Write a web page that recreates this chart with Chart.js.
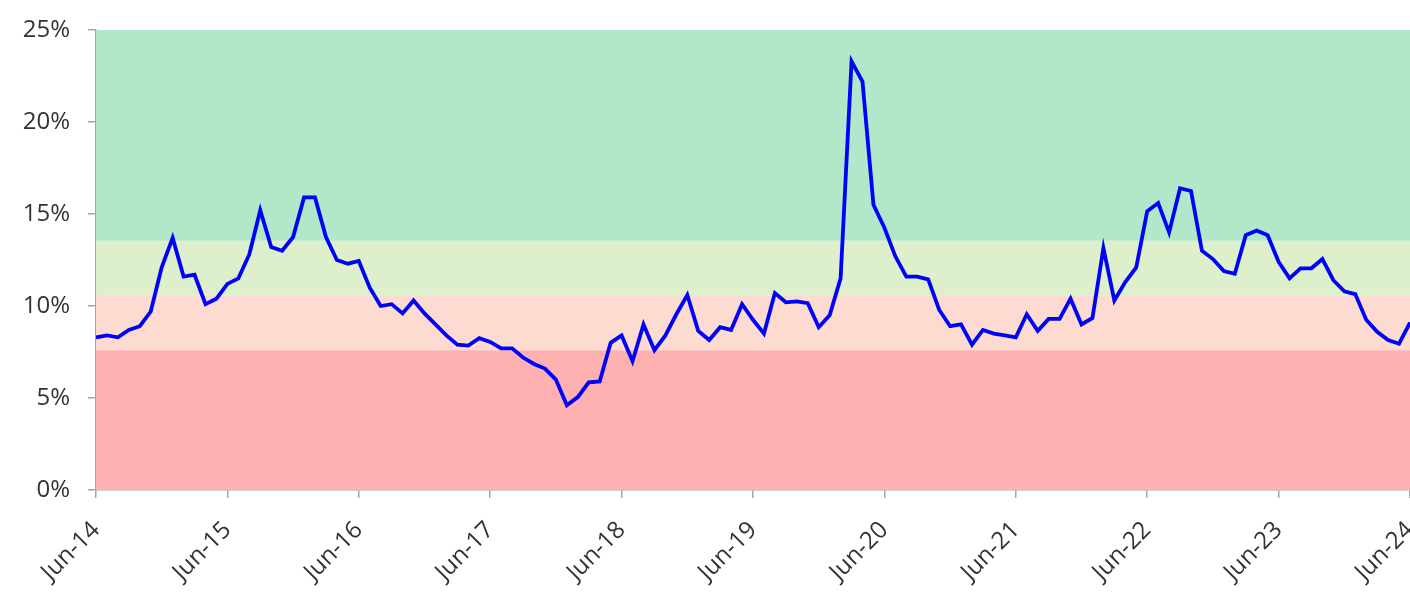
<!DOCTYPE html>
<html>
<head>
<meta charset="utf-8">
<script src="https://cdn.jsdelivr.net/npm/chart.js@4.4.1/dist/chart.umd.min.js"></script>
<style>
  html, body { margin: 0; padding: 0; background: #fff; overflow: hidden; }
  #wrap { width: 1410px; height: 594px; }
</style>
</head>
<body>
<div id="wrap"><canvas id="chart"></canvas></div>
<script>
// Tick labels on the x axis (one every June)
const yearLabels = ["Jun-14", "Jun-15", "Jun-16", "Jun-17", "Jun-18", "Jun-19",
  "Jun-20", "Jun-21", "Jun-22", "Jun-23", "Jun-24"];
const monthNames = ["Jun", "Jul", "Aug", "Sep", "Oct", "Nov", "Dec", "Jan", "Feb", "Mar", "Apr", "May"];

// Monthly values, Jun-14 .. Jun-24 (%)
const values = [
  8.3, 8.4, 8.3, 8.7, 8.9, 9.7, 12.1, 13.7, 11.6, 11.7, 10.1, 10.4,
  11.2, 11.5, 12.8, 15.2, 13.2, 13.0, 13.75, 15.9, 15.9, 13.75, 12.5, 12.3,
  12.45, 11.0, 10.0, 10.1, 9.6, 10.3, 9.6, 9.0, 8.4, 7.9, 7.85, 8.25,
  8.05, 7.7, 7.7, 7.2, 6.85, 6.6, 6.0, 4.6, 5.05, 5.85, 5.9, 8.0,
  8.4, 7.0, 9.0, 7.6, 8.4, 9.55, 10.6, 8.65, 8.15, 8.85, 8.7, 10.1,
  9.25, 8.5, 10.7, 10.2, 10.25, 10.15, 8.85, 9.5, 11.5, 23.3, 22.2, 15.5,
  14.25, 12.7, 11.6, 11.6, 11.45, 9.8, 8.9, 9.0, 7.9, 8.7, 8.5, 8.4,
  8.3, 9.55, 8.65, 9.3, 9.3, 10.4, 9.0, 9.35, 13.15, 10.3, 11.3, 12.1,
  15.15, 15.6, 14.0, 16.4, 16.25, 13.0, 12.55, 11.9, 11.75, 13.85, 14.1, 13.85,
  12.4, 11.5, 12.05, 12.05, 12.55, 11.4, 10.8, 10.65, 9.25, 8.6, 8.15, 7.95,
  9.1
];

// Background bands (value ranges, %) and their colours
const bandEdges = [0, 7.6, 10.55, 13.55, 25];
const bandColors = ["#ffb1b1", "#fedbd1", "#deefcb", "#b2e7c9"];

// Build month labels
const labels = [];
for (let i = 0; i < values.length; i++) {
  const yr = yearLabels[Math.floor(i / 12)].slice(4);
  const m = monthNames[i % 12];
  const y = (i % 12) >= 7 ? String(Number(yr) + 1).padStart(2, "0") : yr;
  labels.push(m + "-" + y);
}

const bandsPlugin = {
  id: "bands",
  beforeDatasetsDraw(chart) {
    const { ctx, chartArea, scales } = chart;
    ctx.save();
    for (let i = 0; i < bandColors.length; i++) {
      const top = scales.y.getPixelForValue(bandEdges[i + 1]);
      const bottom = scales.y.getPixelForValue(bandEdges[i]);
      ctx.fillStyle = bandColors[i];
      ctx.fillRect(chartArea.left, top, chartArea.right - chartArea.left, bottom - top);
    }
    ctx.restore();
  }
};

const font = { family: "'Open Sans', sans-serif", size: 24 };

new Chart(document.getElementById("chart"), {
  type: "line",
  data: {
    labels: labels,
    datasets: [{
      data: values,
      borderColor: "#0000ff",
      borderWidth: 3.8,
      pointRadius: 0,
      tension: 0,
      fill: false
    }]
  },
  options: {
    responsive: true,
    maintainAspectRatio: false,
    animation: false,
    events: [],
    layout: { padding: { top: 30, left: 0, right: 0, bottom: 0 } },
    plugins: { legend: { display: false }, tooltip: { enabled: false } },
    scales: {
      x: {
        offset: false,
        border: { color: "#a6a6a6", width: 1.5 },
        grid: { drawOnChartArea: false, drawTicks: true, tickLength: 8, color: "#a6a6a6", lineWidth: 1.5 },
        ticks: {
          autoSkip: false,
          maxRotation: 45,
          minRotation: 45,
          padding: 18,
          color: "#333",
          font: font,
          callback: function (val, idx) {
            return idx % 12 === 0 ? yearLabels[idx / 12] : null;
          }
        },
        afterFit: function (scale) {
          // fixed axis height; let the last label run off the edge like the original
          scale.height = 104;
          scale.paddingLeft = 0;
          scale.paddingRight = 0;
        }
      },
      y: {
        min: 0,
        max: 25,
        border: { color: "#a6a6a6", width: 1.5 },
        grid: { drawOnChartArea: false, drawTicks: true, tickLength: 8, color: "#a6a6a6", lineWidth: 1.5 },
        ticks: {
          stepSize: 5,
          padding: 18,
          color: "#333",
          font: font,
          callback: v => v + "%"
        },
        afterFit: function (scale) {
          scale.width = 96;
          scale.paddingTop = 0;
          scale.paddingBottom = 0;
        }
      }
    }
  },
  plugins: [bandsPlugin]
});
</script>
</body>
</html>
